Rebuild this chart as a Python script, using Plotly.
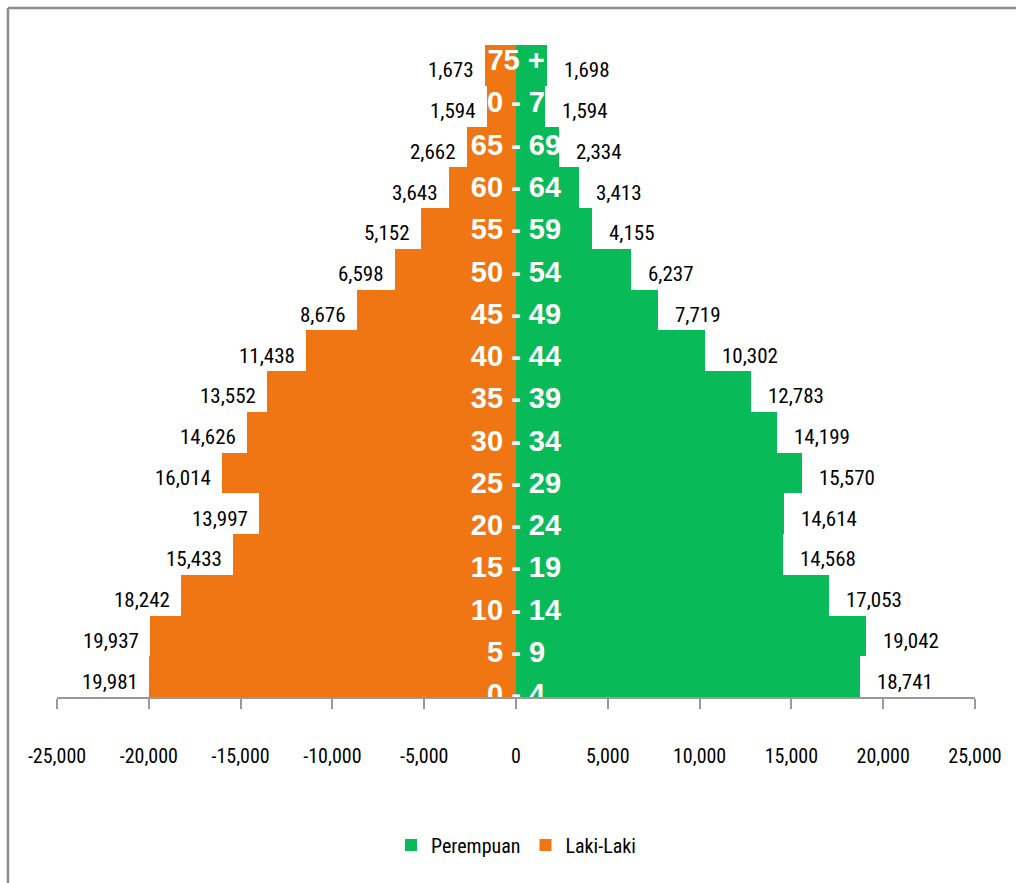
import plotly.graph_objects as go

# Age groups, youngest first (bottom of the pyramid)
age_groups = ["0 - 4", "5 - 9", "10 - 14", "15 - 19", "20 - 24", "25 - 29",
              "30 - 34", "35 - 39", "40 - 44", "45 - 49", "50 - 54", "55 - 59",
              "60 - 64", "65 - 69", "70 - 74", "75 +"]

laki_laki = [19981, 19937, 18242, 15433, 13997, 16014, 14626, 13552,
             11438, 8676, 6598, 5152, 3643, 2662, 1594, 1673]
perempuan = [18741, 19042, 17053, 14568, 14614, 15570, 14199, 12783,
             10302, 7719, 6237, 4155, 3413, 2334, 1594, 1698]

x_tick_values = [-25000, -20000, -15000, -10000, -5000, 0, 5000, 10000, 15000, 20000, 25000]
x_tick_labels = ["-25,000", "-20,000", "-15,000", "-10,000", "-5,000", "0",
                 "5,000", "10,000", "15,000", "20,000", "25,000"]

ORANGE = "#F07614"
GREEN = "#08BA58"
NARROW = "Roboto Condensed, DejaVu Sans Condensed, sans-serif"

positions = list(range(len(age_groups)))

fig = go.Figure()

fig.add_trace(go.Bar(
    name="Perempuan", y=positions, x=perempuan, orientation="h",
    marker=dict(color=GREEN, line=dict(width=0)),
))
fig.add_trace(go.Bar(
    name="Laki-Laki", y=positions, x=[-v for v in laki_laki], orientation="h",
    marker=dict(color=ORANGE, line=dict(width=0)),
))

# Age group names in the middle of the pyramid, clipped to the plot area
fig.add_trace(go.Scatter(
    x=[0] * len(age_groups), y=positions, mode="text", text=age_groups,
    textposition="middle center", cliponaxis=True, showlegend=False,
    hoverinfo="skip", yaxis="y2",
    textfont=dict(family="Liberation Sans, Arial, sans-serif", size=29, color="white",
                  weight="bold"),
))

# Value labels beside each bar
annotations = []
for i, v in enumerate(laki_laki):
    annotations.append(dict(
        x=-v, y=i, xref="x", yref="y", text=f"{v:,}", showarrow=False,
        xanchor="right", yanchor="middle", xshift=-9, yshift=-5,
        font=dict(family=NARROW, size=21, color="black"),
    ))
for i, v in enumerate(perempuan):
    annotations.append(dict(
        x=v, y=i, xref="x", yref="y", text=f"{v:,}", showarrow=False,
        xanchor="left", yanchor="middle", xshift=15, yshift=-5,
        font=dict(family=NARROW, size=21, color="black"),
    ))

# Chart-area frame on the top and left edges
frame = dict(type="line", xref="paper", yref="paper",
             line=dict(color="#8C8C8C", width=2.5), layer="above")
shapes = [
    dict(frame, x0=-0.0534, x1=1.1, y0=1.0567, y1=1.0567),
    dict(frame, x0=-0.0534, x1=-0.0534, y0=1.0567, y1=-0.35),
]

fig.update_layout(
    width=1016, height=883,
    margin=dict(l=57, r=41, t=45, b=186),
    paper_bgcolor="white", plot_bgcolor="white",
    barmode="relative", bargap=0,
    showlegend=True,
    legend=dict(orientation="h", x=0.5, xanchor="center", y=-0.227, yanchor="middle",
                font=dict(family=NARROW, size=20, color="black"),
                itemwidth=30, tracegroupgap=0),
    xaxis=dict(range=[-25000, 25000], tickvals=x_tick_values, ticktext=x_tick_labels,
               showgrid=False, zeroline=False, showline=True, linecolor="#999999",
               linewidth=2, ticks="outside", ticklen=10, tickcolor="#999999",
               tickwidth=1.5, ticklabelstandoff=30,
               tickfont=dict(family=NARROW, size=20, color="black")),
    yaxis=dict(range=[-0.5, 15.5], showgrid=False, zeroline=False, showline=False,
               showticklabels=False, ticks=""),
    yaxis2=dict(range=[0, 15.425], overlaying="y", showgrid=False, zeroline=False,
                showline=False, showticklabels=False, ticks=""),
    annotations=annotations,
    shapes=shapes,
)

fig.write_html("out.html")
